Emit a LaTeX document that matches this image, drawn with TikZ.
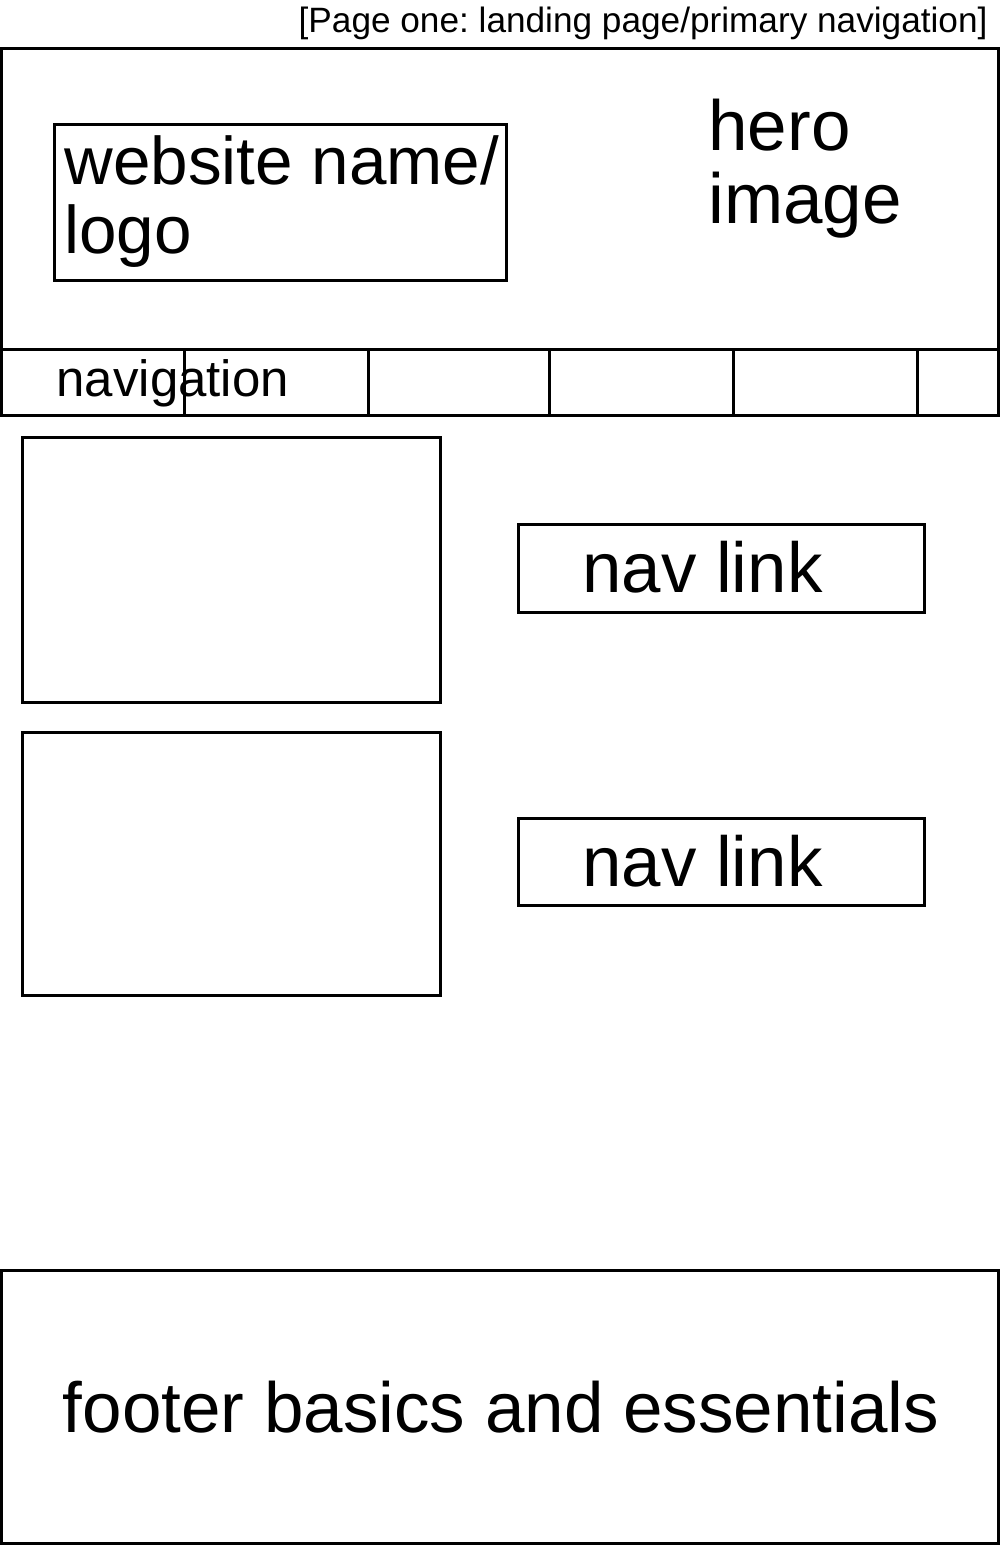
\documentclass[tikz,border=0pt]{standalone}
\usepackage{fontspec}
\setmainfont{Liberation Sans}
\frenchspacing
\begin{document}
\begin{tikzpicture}[x=0.5pt, y=-0.5pt, line width=1.5pt]
    \tikzstyle{frame} = [rectangle, draw=black, inner sep=0pt, outer sep=0pt, anchor=north west]
    \tikzstyle{wtext} = [inner sep=0pt, align=left]
    \useasboundingbox (0,0) rectangle (1000,1545);

    % Titre de la page
    \node[wtext, anchor=base east, font=\fontsize{17.6}{21}\selectfont] (title) at (989,33) {[Page one: landing page/primary navigation]};

    % En-tete + barre de navigation
    \node[frame, minimum width=498.5pt, minimum height=150.5pt] (header) at (1.5,49) {};
    \node[frame, minimum width=226pt, minimum height=78pt] (logo) at (54,125) {};
    \node[wtext, anchor=north west, font=\fontsize{33.7}{34.5}\selectfont] (logotext) at (63,134) {website name/\\logo};
    \node[wtext, anchor=north west, font=\fontsize{35.5}{36.5}\selectfont] (hero) at (707,98) {hero\\image};
    \node[frame, minimum width=498.5pt, minimum height=33pt] (nav) at (1.5,350) {};
    \foreach \x in {184,368,549,733,917}
        \draw (\x,0 |- nav.north) -- (\x,0 |- nav.south);
    \node[wtext, anchor=base west, font=\fontsize{25.5}{30}\selectfont] (navtext) at (55,397) {navigation};

    % Contenu
    \node[frame, minimum width=209pt, minimum height=132pt] (img1) at (22,438) {};
    \node[frame, minimum width=209pt, minimum height=131.5pt] (img2) at (22,732) {};
    \node[frame, minimum width=203pt, minimum height=44pt] (link1) at (518,524) {};
    \node[frame, minimum width=203pt, minimum height=43.5pt] (link2) at (518,818) {};
    \node[wtext, anchor=base west, font=\fontsize{35.4}{40}\selectfont] (linktext1) at (581,592) {nav link};
    \node[wtext, anchor=base west, font=\fontsize{35.4}{40}\selectfont] (linktext2) at (581,886) {nav link};

    % Pied de page
    \node[frame, minimum width=498.5pt, minimum height=136.75pt] (footer) at (1.5,1270) {};
    \node[wtext, anchor=base, font=\fontsize{35.5}{40}\selectfont] (footertext) at (501,1432) {footer basics and essentials};
\end{tikzpicture}
\end{document}
